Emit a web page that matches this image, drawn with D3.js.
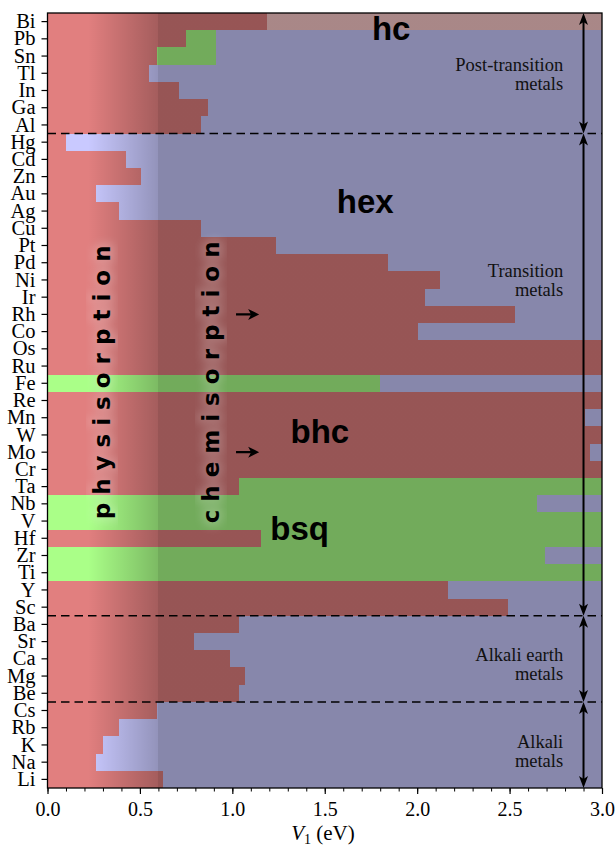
<!DOCTYPE html>
<html>
<head>
<meta charset="utf-8">
<script src="https://cdn.jsdelivr.net/npm/d3@7"></script>
<style>
  html, body { margin: 0; padding: 0; background: #fff; }
  svg { display: block; }
</style>
</head>
<body>
<svg id="chart" width="615" height="847"></svg>
<script>
// Adsorbed-layer phase along V1 for each metal substrate (top row first)
const elements = ["Bi","Pb","Sn","Tl","In","Ga","Al",
  "Hg","Cd","Zn","Au","Ag","Cu","Pt","Pd","Ni","Ir","Rh","Co","Os","Ru","Fe","Re","Mn","W","Mo","Cr","Ta","Nb","V","Hf","Zr","Ti","Y","Sc",
  "Ba","Sr","Ca","Mg","Be",
  "Cs","Rb","K","Na","Li"];

// Phase sequence of each row, from V1 = 0 upward
const rowPhases = [
  ["bhc","hc"], ["bhc","bsq","hex"], ["bhc","bsq","hex"], ["bhc","hex"], ["bhc","hex"], ["bhc","hex"], ["bhc","hex"],
  ["bhc","hex"], ["bhc","hex"], ["bhc","hex"], ["bhc","hex"], ["bhc","hex"], ["bhc","hex"], ["bhc","hex"], ["bhc","hex"],
  ["bhc","hex"], ["bhc","hex"], ["bhc","hex"], ["bhc","hex"], ["bhc"], ["bhc"], ["bsq","hex"], ["bhc"], ["bhc","hex"],
  ["bhc"], ["bhc","hex"], ["bhc"], ["bhc","bsq"], ["bsq","hex"], ["bsq"], ["bhc","bsq"], ["bsq","hex"], ["bsq"],
  ["bhc","hex"], ["bhc","hex"],
  ["bhc","hex"], ["bhc","hex"], ["bhc","hex"], ["bhc","hex"], ["bhc","hex"],
  ["bhc","hex"], ["bhc","hex"], ["bhc","hex"], ["bhc","hex"], ["bhc","hex"]
];

// V1 values (eV) where each row switches phase
const rowBreaks = [
  [1.19], [0.75, 0.91], [0.59, 0.91], [0.55], [0.71], [0.87], [0.83],
  [0.10], [0.425], [0.505], [0.26], [0.385], [0.83], [1.235], [1.84],
  [2.125], [2.045], [2.53], [2.005], [], [], [1.80], [], [2.91],
  [], [2.935], [], [1.035], [2.65], [], [1.155], [2.69], [],
  [2.165], [2.49],
  [1.035], [0.79], [0.99], [1.07], [1.035],
  [0.59], [0.385], [0.30], [0.26], [0.625]
];

const phaseColor = { bhc: "#e17f7f", hex: "#c9c9ff", bsq: "#aaff88", hc: "#fccaca" };

// Element groups (first and last row), their labels and the row the label sits at
const groups = [
  { from: "Bi", to: "Al", lines: ["Post-transition", "metals"], at: 3.35 },
  { from: "Hg", to: "Sc", lines: ["Transition", "metals"], at: 15.3 },
  { from: "Ba", to: "Be", lines: ["Alkali earth", "metals"], at: 37.6 },
  { from: "Cs", to: "Li", lines: ["Alkali", "metals"], at: 42.7 }
];

// phase names: text, V1 of left edge, baseline in row units from the top
const phaseLabels = [
  { text: "hc",  v: 1.755, at: 1.57 },
  { text: "hex", v: 1.565, at: 11.62 },
  { text: "bhc", v: 1.315, at: 24.97 },
  { text: "bsq", v: 1.205, at: 30.6 }
];

const regimeLabels = [
  { text: "p h y s i s o r p t i o n", v: 0.30 },
  { text: "c h e m i s o r p t i o n", v: 0.89 }
];
const arrowRows = ["Rh", "Mo"];

const xTicks = [0, 0.5, 1.0, 1.5, 2.0, 2.5, 3.0];
const xMinor = d3.range(0, 3.0001, 0.1);

const svg = d3.select("#chart");
const margin = { left: 47.5, right: 602, top: 13, bottom: 788 };

const x = d3.scaleLinear().domain([0, 3]).range([margin.left, margin.right]);
const y = d3.scaleBand().domain(elements).range([margin.top, margin.bottom]).padding(0);
const rowY = f => margin.top + f * y.step();

const defs = svg.append("defs");
const clip = defs.append("clipPath").attr("id", "plotClip");
clip.append("rect").attr("x", margin.left).attr("y", margin.top)
  .attr("width", margin.right - margin.left).attr("height", margin.bottom - margin.top);

// darkening overlay: physisorption (light) fades into chemisorption (dark)
const grad = defs.append("linearGradient").attr("id", "shade")
  .attr("gradientUnits", "userSpaceOnUse")
  .attr("x1", x(0)).attr("x2", x(3)).attr("y1", 0).attr("y2", 0);
const off = v => (v / 3 * 100) + "%";
[[0, 0], [0.22, 0], [0.60, 0.27], [0.60, 0.33], [3, 0.33]].forEach(([v, o]) => {
  grad.append("stop").attr("offset", off(v)).attr("stop-color", "#000").attr("stop-opacity", o);
});

const blur = defs.append("filter").attr("id", "halo").attr("x", "-50%").attr("y", "-10%")
  .attr("width", "200%").attr("height", "120%");
blur.append("feGaussianBlur").attr("stdDeviation", 5);

// segments of each row
const segs = [];
elements.forEach((el, i) => {
  const edges = [0, ...rowBreaks[i], 3];
  rowPhases[i].forEach((p, j) => segs.push({ el, phase: p, v0: edges[j], v1: edges[j + 1] }));
});

const plot = svg.append("g").attr("clip-path", "url(#plotClip)");
plot.selectAll("rect.seg").data(segs).join("rect")
  .attr("class", "seg")
  .attr("x", d => x(d.v0))
  .attr("y", d => y(d.el))
  .attr("width", d => x(d.v1) - x(d.v0))
  .attr("height", y.bandwidth() + 0.4)
  .attr("fill", d => phaseColor[d.phase])
  .attr("shape-rendering", "crispEdges");

plot.append("rect")
  .attr("x", x(0)).attr("y", margin.top)
  .attr("width", x(3) - x(0)).attr("height", margin.bottom - margin.top)
  .attr("fill", "url(#shade)");

// regime labels, with a soft light halo
const midY = rowY(21.45);
regimeLabels.forEach(r => {
  const g = plot.append("g").attr("transform", `translate(${x(r.v)},${midY}) rotate(-90)`);
  const style = t => t.attr("text-anchor", "middle").attr("dy", "0.3em")
    .attr("font-family", "DejaVu Sans").attr("font-weight", "bold").attr("font-size", 23);
  g.append("text").text(r.text).call(style)
    .attr("fill", "#fff").attr("stroke", "#fff").attr("stroke-width", 8)
    .attr("opacity", 0.2).attr("filter", "url(#halo)");
  g.append("text").text(r.text).call(style).attr("fill", "#000");
});

// arrows pointing into the chemisorption side
arrowRows.forEach(el => {
  const cy = y(el) + y.bandwidth() / 2;
  const x0 = x(1.02), x1 = x(1.145);
  plot.append("line").attr("x1", x0).attr("x2", x1 - 6).attr("y1", cy).attr("y2", cy)
    .attr("stroke", "#000").attr("stroke-width", 2.2);
  plot.append("path")
    .attr("d", `M${x1},${cy} L${x1 - 11},${cy - 5.5} L${x1 - 8},${cy} L${x1 - 11},${cy + 5.5} Z`)
    .attr("fill", "#000");
});

// phase names
phaseLabels.forEach(p => {
  plot.append("text").text(p.text)
    .attr("x", x(p.v)).attr("y", rowY(p.at))
    .attr("font-family", "Liberation Sans, Arial, sans-serif").attr("font-weight", "bold")
    .attr("font-size", 33).attr("fill", "#000");
});

// group separators
groups.slice(1).forEach(g => {
  plot.append("line")
    .attr("x1", x(0)).attr("x2", x(3))
    .attr("y1", y(g.from)).attr("y2", y(g.from))
    .attr("stroke", "#000").attr("stroke-width", 1.5).attr("stroke-dasharray", "8.5,5");
});

// group extents and names
const ax = x(2.9);
groups.forEach(g => {
  const top = y(g.from), bot = y(g.to) + y.bandwidth();
  plot.append("line").attr("x1", ax).attr("x2", ax).attr("y1", top + 6).attr("y2", bot - 6)
    .attr("stroke", "#000").attr("stroke-width", 2);
  plot.append("path").attr("d", `M${ax},${top} L${ax - 4.5},${top + 12} L${ax},${top + 9} L${ax + 4.5},${top + 12} Z`).attr("fill", "#000");
  plot.append("path").attr("d", `M${ax},${bot} L${ax - 4.5},${bot - 12} L${ax},${bot - 9} L${ax + 4.5},${bot - 12} Z`).attr("fill", "#000");
  g.lines.forEach((t, k) => {
    plot.append("text").text(t)
      .attr("x", x(2.79)).attr("y", rowY(g.at) + k * 19)
      .attr("text-anchor", "end")
      .attr("font-family", "Liberation Serif, serif").attr("font-size", 18.5)
      .attr("fill", "#111");
  });
});

// frame
svg.append("rect").attr("x", margin.left).attr("y", margin.top)
  .attr("width", margin.right - margin.left).attr("height", margin.bottom - margin.top)
  .attr("fill", "none").attr("stroke", "#000").attr("stroke-width", 1.3);

// axes
const yAxis = svg.append("g").attr("transform", `translate(${margin.left},0)`)
  .call(d3.axisLeft(y).tickSize(6).tickPadding(6));
yAxis.select(".domain").remove();
yAxis.selectAll("line").attr("stroke-width", 1.2);
yAxis.selectAll("text").attr("font-family", "Liberation Serif, serif").attr("font-size", 20.5).attr("fill", "#000");

const xMinorAxis = svg.append("g").attr("transform", `translate(0,${margin.bottom})`)
  .call(d3.axisBottom(x).tickValues(xMinor).tickSize(3.5).tickFormat(""));
xMinorAxis.select(".domain").remove();
xMinorAxis.selectAll("line").attr("stroke-width", 1);

const xAxis = svg.append("g").attr("transform", `translate(0,${margin.bottom})`)
  .call(d3.axisBottom(x).tickValues(xTicks).tickSize(6).tickPadding(8).tickFormat(d3.format(".1f")));
xAxis.select(".domain").remove();
xAxis.selectAll("line").attr("stroke-width", 1.2);
xAxis.selectAll("text").attr("font-family", "Liberation Serif, serif").attr("font-size", 20).attr("fill", "#000");

const title = svg.append("text")
  .attr("x", 323).attr("y", 840)
  .attr("text-anchor", "middle")
  .attr("font-family", "Liberation Serif, serif").attr("font-size", 21).attr("fill", "#000");
title.append("tspan").attr("font-style", "italic").text("V");
title.append("tspan").attr("font-size", 14).attr("dy", 4).text("1");
title.append("tspan").attr("dy", -4).text(" (eV)");
</script>
</body>
</html>
